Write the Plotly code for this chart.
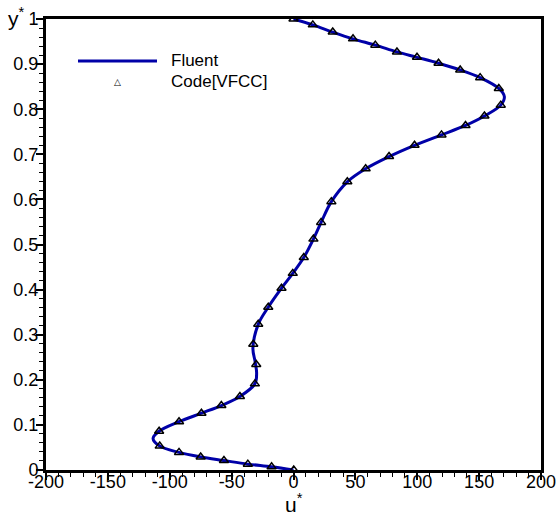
import plotly.graph_objects as go

# Code[VFCC] markers
code_u = [0, 15.6, 31.7, 48.1, 66.1, 83.6, 99.8, 117.2, 134.7, 150.8, 165.9, 167.5, 154.3, 139.0,
          119.6, 97.8, 77.2, 58.3, 43.5, 30.6, 22.3, 16.1, 8.3, -0.6, -9.7, -20.4, -28.5, -32.5,
          -30.1, -31.2, -43.3, -58.3, -74.4, -92.5, -108.6, -108.1, -92.5, -75.0, -56.2, -36.9,
          -17.7, 0.2]
code_y = [1.0, 0.987, 0.971, 0.956, 0.942, 0.927, 0.915, 0.902, 0.887, 0.870, 0.846, 0.809, 0.785,
          0.764, 0.743, 0.720, 0.695, 0.668, 0.639, 0.595, 0.549, 0.512, 0.471, 0.436, 0.403, 0.361,
          0.323, 0.279, 0.234, 0.191, 0.163, 0.143, 0.126, 0.107, 0.086, 0.053, 0.039, 0.029, 0.021,
          0.013, 0.007, 0.0]

# Fluent curve
fluent_u = [0, 15.6, 31.7, 48.1, 66.1, 83.6, 99.8, 117.2, 134.7, 150.8, 165.9, 170.4, 167.5, 154.3,
            139.0, 119.6, 97.8, 77.2, 58.3, 43.5, 30.6, 22.3, 16.1, 8.3, -0.6, -9.7, -20.4, -28.5,
            -32.8, -31.0, -29.8, -31.2, -43.3, -58.3, -74.4, -92.5, -108.6, -113.5, -108.1, -92.5,
            -75.0, -56.2, -36.9, -17.7, 0.0]
fluent_y = [1.0, 0.987, 0.971, 0.956, 0.942, 0.927, 0.915, 0.902, 0.887, 0.870, 0.846, 0.828, 0.809,
            0.785, 0.764, 0.743, 0.720, 0.695, 0.668, 0.639, 0.595, 0.549, 0.512, 0.471, 0.436, 0.403,
            0.361, 0.323, 0.270, 0.240, 0.215, 0.191, 0.163, 0.143, 0.126, 0.107, 0.086, 0.070, 0.053,
            0.039, 0.029, 0.021, 0.013, 0.007, 0.0]

x_ticks = [-200, -150, -100, -50, 0, 50, 100, 150, 200]
y_ticks = [0, 0.1, 0.2, 0.3, 0.4, 0.5, 0.6, 0.7, 0.8, 0.9, 1]
y_tick_text = ["0", "0.1", "0.2", "0.3", "0.4", "0.5", "0.6", "0.7", "0.8", "0.9", "1"]

FONT = "Liberation Sans, Arial, sans-serif"
LINE_COLOR = "#0000a8"

fig = go.Figure()
fig.add_trace(go.Scatter(x=fluent_u, y=fluent_y, mode="lines", name="Fluent",
                         line=dict(color=LINE_COLOR, width=3, shape="spline", smoothing=1.0),
                         showlegend=False))
fig.add_trace(go.Scatter(x=code_u, y=code_y, mode="markers", name="Code[VFCC]",
                         marker=dict(symbol="triangle-up-open", size=8, color="black",
                                     line=dict(width=1.5, color="black")),
                         showlegend=False))

axis_common = dict(showline=True, linecolor="black", linewidth=3, mirror=True, automargin=False,
                   showgrid=False, zeroline=False, ticks="outside", ticklen=7, tickwidth=1.5,
                   tickcolor="black", tickfont=dict(family=FONT, size=18, color="black"))

fig.update_xaxes(range=[-200, 200], tickvals=x_ticks, ticktext=[str(v) for v in x_ticks],
                 ticklabelstandoff=-14,
                 minor=dict(dtick=10, ticks="outside", ticklen=4, tickwidth=1, tickcolor="black"),
                 **axis_common)
fig.update_yaxes(range=[0, 1], tickvals=y_ticks, ticktext=y_tick_text,
                 ticklabelstandoff=-6,
                 minor=dict(dtick=0.02, ticks="outside", ticklen=4, tickwidth=1, tickcolor="black"),
                 **axis_common)

# legend drawn manually
fig.add_shape(type="line", xref="paper", yref="paper", x0=(78 - 46) / 495, x1=(157 - 46) / 495,
              y0=(470 - 61) / 451, y1=(470 - 61) / 451, line=dict(color=LINE_COLOR, width=3))
fig.add_annotation(xref="paper", yref="paper", x=(117 - 46) / 495, y=(470 - 82) / 451,
                   xanchor="center", yanchor="middle",
                   text="△", showarrow=False, font=dict(family="DejaVu Sans", size=9, color="black"))
fig.add_annotation(xref="paper", yref="paper", x=(169 - 46) / 495, y=(470 - 60) / 451,
                   xanchor="left", yanchor="middle", text="Fluent", showarrow=False,
                   font=dict(family=FONT, size=17, color="black"))
fig.add_annotation(xref="paper", yref="paper", x=(169 - 46) / 495, y=(470 - 81) / 451,
                   xanchor="left", yanchor="middle", text="Code[VFCC]", showarrow=False,
                   font=dict(family=FONT, size=17, color="black"))

# axis titles
fig.add_annotation(xref="paper", yref="paper", x=0.5, y=(470 - 503) / 451, text="u<sup>*</sup>",
                   xanchor="center", yanchor="middle",
                   showarrow=False, font=dict(family=FONT, size=21, color="black"))
fig.add_annotation(xref="paper", yref="paper", x=(16 - 46) / 495, y=(470 - 17) / 451,
                   xanchor="center", yanchor="middle",
                   text="y<sup>*</sup>", showarrow=False,
                   font=dict(family=FONT, size=21, color="black"))

fig.update_layout(width=557, height=520, margin=dict(l=46, r=16, t=19, b=50),
                  plot_bgcolor="white", paper_bgcolor="white")

fig.write_html("out.html", config={"displayModeBar": False},
               post_script="document.body.style.margin='0';")
